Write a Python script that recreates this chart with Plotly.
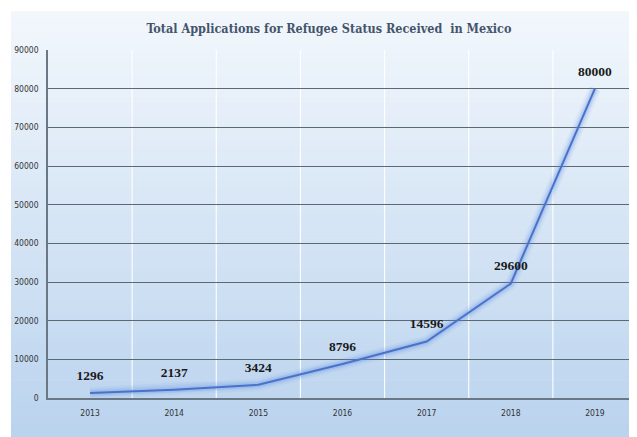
import plotly.graph_objects as go

years = ["2013", "2014", "2015", "2016", "2017", "2018", "2019"]
applications = [1296, 2137, 3424, 8796, 14596, 29600, 80000]
y_ticks = [0, 10000, 20000, 30000, 40000, 50000, 60000, 70000, 80000, 90000]
title_text = "Total Applications for Refugee Status Received  in Mexico"

# page has an 8px body margin; figure sized so it fits the window exactly
W, H = 629, 429
ml, mr, mt, mb = 40, 0, 42, 39
pw, ph = W - ml - mr, H - mt - mb

def px_to_paper_x(px):
    return (px - ml) / pw

def px_to_paper_y(py):
    return (H - mb - py) / ph

# gradient background bands (light at top, deeper blue at bottom)
top_c = (242, 247, 252)
bot_c = (186, 211, 238)
shapes = []
n = 60
y_top_px, y_bot_px = 3, H
for i in range(n):
    t = i / (n - 1)
    c = tuple(int(round(top_c[k] + (bot_c[k] - top_c[k]) * t)) for k in range(3))
    y0 = y_top_px + (y_bot_px - y_top_px) * i / n
    y1 = y_top_px + (y_bot_px - y_top_px) * (i + 1) / n + 0.6
    shapes.append(dict(type="rect", xref="paper", yref="paper",
                       x0=px_to_paper_x(3), x1=px_to_paper_x(W + 2),
                       y0=px_to_paper_y(y1), y1=px_to_paper_y(y0),
                       fillcolor="rgb(%d,%d,%d)" % c, line=dict(width=0),
                       layer="below"))

# vertical white separators between categories
for i in range(len(years) - 1):
    shapes.append(dict(type="line", xref="x", yref="paper",
                       x0=i + 0.5, x1=i + 0.5, y0=0, y1=1,
                       line=dict(color="rgba(255,255,255,0.9)", width=1.2),
                       layer="below"))

fig = go.Figure()
# soft glow under the line
for w, a in [(12, 0.08), (8, 0.12), (5, 0.18)]:
    fig.add_trace(go.Scatter(x=years, y=applications, mode="lines",
                             line=dict(color="rgba(90,140,230,%s)" % a, width=w),
                             hoverinfo="skip", showlegend=False))
fig.add_trace(go.Scatter(
    x=years, y=applications, mode="lines+markers+text",
    line=dict(color="#4a72c8", width=2),
    marker=dict(size=14, opacity=0),
    text=[str(v) for v in applications],
    textposition="top center",
    textfont=dict(family="Liberation Serif, Times New Roman, serif", size=13.5,
                  color="#1a1a1a", weight="bold"),
    showlegend=False))

fig.update_layout(
    width=W, height=H,
    margin=dict(l=ml, r=mr, t=mt, b=mb),
    paper_bgcolor="white",
    plot_bgcolor="rgba(0,0,0,0)",
    shapes=shapes,
    title=dict(text="<b>" + title_text + "</b>", x=0.477, xref="paper",
               xanchor="center", y=1 - 21 / H, yanchor="middle",
               font=dict(family="DejaVu Serif Condensed, DejaVu Serif",
                         size=12.5, color="#44546a")),
    xaxis=dict(type="category", range=[-0.5, 6.5],
               showgrid=False, zeroline=False, showline=True,
               linecolor="#6a7886", linewidth=1.5,
               tickfont=dict(family="DejaVu Sans Condensed", size=8.5, color="#333"),
               ticks="", ticklabelstandoff=6),
    yaxis=dict(range=[0, 90000], tickvals=y_ticks,
               ticktext=[str(v) for v in y_ticks],
               showgrid=True, gridcolor="#5d6873", gridwidth=1.2,
               zeroline=False, showline=True, linecolor="#6a7886", linewidth=1.5,
               tickfont=dict(family="DejaVu Sans Condensed", size=8.5, color="#333"),
               ticks="", ticklabelstandoff=6),
)

fig.write_html("out.html")
